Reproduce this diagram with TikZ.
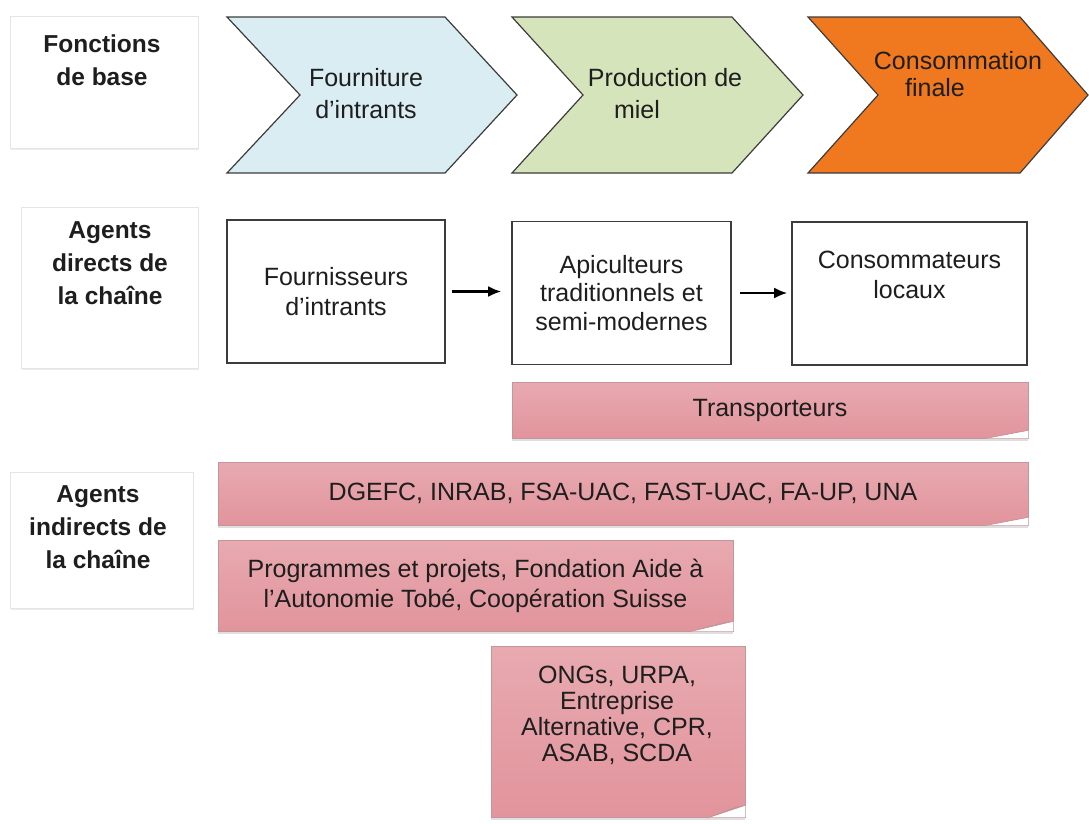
\documentclass[tikz,border=0pt]{standalone}
\usepackage{fontspec}
\setmainfont{Liberation Sans}
\usetikzlibrary{positioning,calc,shadows,arrows.meta}
\definecolor{intrantsblue}{RGB}{218,237,243}
\definecolor{mielgreen}{RGB}{214,228,188}
\definecolor{consoorange}{RGB}{240,120,30}
\definecolor{bannerpink}{RGB}{226,148,156}
\definecolor{bannerlight}{RGB}{248,224,226}
\definecolor{bannerline}{RGB}{196,150,155}
\definecolor{edgegray}{RGB}{60,60,60}
\definecolor{textgray}{RGB}{30,30,30}
\tikzstyle{Label} = [draw=black!10, fill=white, drop shadow={opacity=0.15, shadow xshift=1pt, shadow yshift=-2pt}]
\tikzstyle{LabelText} = [font=\bfseries\fontsize{24.5}{33}\selectfont, align=center, inner sep=0pt, anchor=north]
\tikzstyle{Chevron} = [draw=edgegray, line width=1.2pt]
\tikzstyle{Agent} = [draw=edgegray, line width=1.6pt, fill=white, align=center]
\tikzstyle{Banner} = [draw=bannerline, line width=0.6pt, top color=bannerpink!80, middle color=bannerlight, bottom color=bannerpink, align=center, drop shadow={opacity=0.25, shadow xshift=0pt, shadow yshift=-3pt}]
\tikzstyle{Fold} = [fill=bannerpink!90!black, draw=bannerline, line width=0.6pt]
\tikzstyle{Arrow} = [-{Latex[length=13pt, width=11pt]}, line width=2.2pt]

\begin{document}
\begin{tikzpicture}[x=1pt,y=-1pt]
        \tikzstyle{every node} = [font=\fontsize{25}{30}\selectfont, text=textgray]
        \useasboundingbox (0,0) rectangle (1089,823);

        %%%%% Top Line : Fonctions de base %%%%%

        \draw node[Label, minimum width=188, minimum height=132] at (104,82) (fonctions){};
        \node[LabelText] at ($(fonctions.north)+(-2,18.5)$) (fonctionsText) {Fonctions\\de base};

        \draw[Chevron, fill=intrantsblue] (227,17) -- (445,17) -- (517,95) -- (445,173) -- (227,173) -- (300,95) -- cycle;
        \draw[Chevron, fill=mielgreen] (512,17) -- (732,17) -- (803,95) -- (732,173) -- (512,173) -- (583,95) -- cycle;
        \draw[Chevron, fill=consoorange] (808,17) -- (1020,17) -- (1088,95) -- (1020,173) -- (808,173) -- (878,95) -- cycle;
        \node[align=center, font=\fontsize{25}{32}\selectfont] at (366,94) (fourniture) {Fourniture\\d’intrants};
        \node[align=center, font=\fontsize{25}{32}\selectfont] at (665,94) (production) {Production de\\\hspace*{-56pt}miel};
        \node[align=center, font=\fontsize{25}{27}\selectfont] at (958,74) (consommation) {Consommation\\\hspace*{-46pt}finale};

        %%%%% Second Line : Agents directs %%%%%

        \draw node[Label, minimum width=177, minimum height=161] at (109.5,287.5) (directs){};
        \node[LabelText] at ($(directs.north)+(0.5,14.5)$) (directsText) {Agents\\directs de\\la chaîne};

        \draw node[Agent, minimum width=218, minimum height=143] at (336,291.5) (fournisseurs){Fournisseurs\\d’intrants};
        \draw node[Agent, minimum width=219, minimum height=143, font=\fontsize{25}{28.5}\selectfont] at (621.5,293) (apiculteurs){Apiculteurs\\traditionnels et\\semi-modernes};
        \draw node[Agent, minimum width=235, minimum height=143] at (909.5,293.5) (consommateurs){};
        \node[align=center, inner sep=0pt, anchor=north] at ($(consommateurs.north)+(0,30)$) (consommateursText) {Consommateurs\\locaux};

        %%%%% Third Line : Transporteurs %%%%%

        \draw node[Banner, minimum width=516, minimum height=56] at (770,410) (transporteurs){Transporteurs};

        %%%%% Bottom Lines : Agents indirects %%%%%

        \draw node[Label, minimum width=183, minimum height=136] at (101.5,540) (indirects){};
        \node[LabelText] at ($(indirects.north)+(-3.5,13.5)$) (indirectsText) {Agents\\indirects de\\la chaîne};

        \draw node[Banner, minimum width=810, minimum height=63] at (623,493.5) (dgefc){DGEFC, INRAB, FSA-UAC, FAST-UAC, FA-UP, UNA};
        \draw node[Banner, minimum width=515, minimum height=91, font=\fontsize{25}{30}\selectfont] at (475.5,585.5) (programmes){Programmes et projets, Fondation Aide à\\l’Autonomie Tobé, Coopération Suisse};
        \draw node[Banner, minimum width=254, minimum height=171] at (618,731.5) (ongs){};
        \node[align=center, inner sep=0pt, anchor=north, font=\fontsize{25}{26}\selectfont] at ($(ongs.north)+(-1,20.5)$) (ongsText) {ONGs, URPA,\\Entreprise\\Alternative, CPR,\\ASAB, SCDA};

        %%%%% Folded Corners %%%%%

        \fill[white] (transporteurs.south east) -- ++(-42,0) -- ++(42,-8) -- cycle;
        \filldraw[Fold] ($(transporteurs.south east)+(-42,0)$) -- ++(42,-8) -- ++(-12,2) -- cycle;
        \fill[white] (dgefc.south east) -- ++(-42,0) -- ++(42,-8) -- cycle;
        \filldraw[Fold] ($(dgefc.south east)+(-42,0)$) -- ++(42,-8) -- ++(-12,2) -- cycle;
        \fill[white] (programmes.south east) -- ++(-42,0) -- ++(42,-10) -- cycle;
        \filldraw[Fold] ($(programmes.south east)+(-42,0)$) -- ++(42,-10) -- ++(-12,2) -- cycle;
        \fill[white] (ongs.south east) -- ++(-36,0) -- ++(36,-12) -- cycle;
        \filldraw[Fold] ($(ongs.south east)+(-36,0)$) -- ++(36,-12) -- ++(-10,2) -- cycle;

        %%%%% Connecting Arrows %%%%%

        \draw [Arrow, shorten <=6pt, shorten >=10pt] (fournisseurs.east) -- (fournisseurs.east -| apiculteurs.west);
        \draw [Arrow, shorten <=8pt, shorten >=4pt] (apiculteurs.east) -- (apiculteurs.east -| consommateurs.west);

\end{tikzpicture}
\end{document}
